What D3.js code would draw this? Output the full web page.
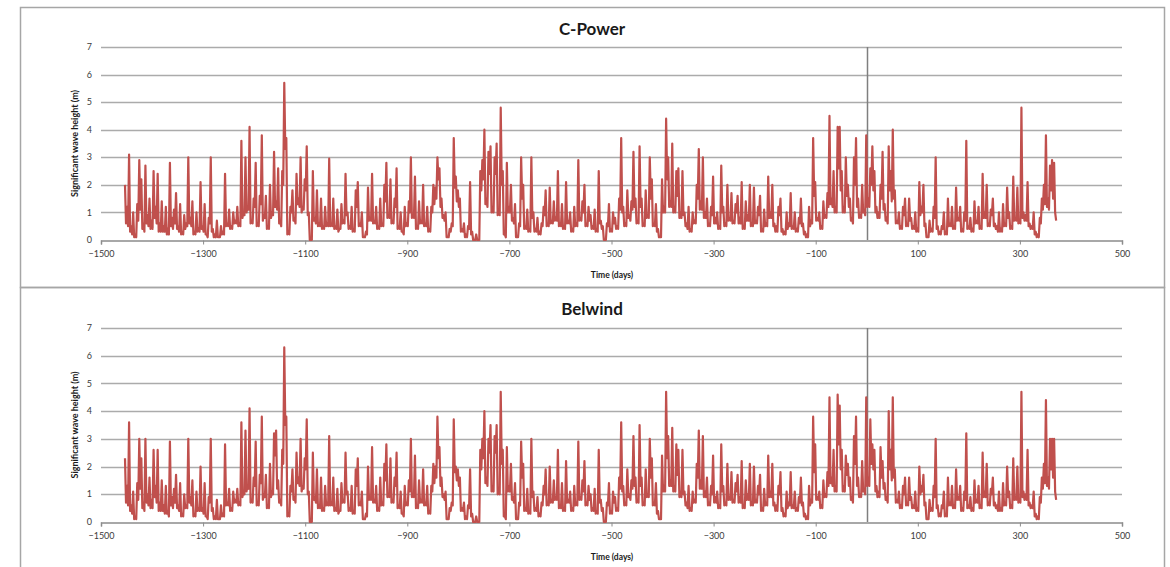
<!DOCTYPE html>
<html>
<head>
<meta charset="utf-8">
<script src="https://cdn.jsdelivr.net/npm/d3@7"></script>
<style>
  body { margin: 0; background: #fff; }
  svg { display: block; font-family: Lato, "Open Sans", sans-serif; }
</style>
</head>
<body>
<div id="chart"></div>
<script>
// readings every 2 days from day -1453: the "Even" arrays hold days -1453, -1449, ...
// and the "Odd" arrays the readings in between (-1451, -1447, ...)
const startDay = -1453;
const stepDays = 2;
const xTicks = [-1500, -1300, -1100, -900, -700, -500, -300, -100, 100, 300, 500];
const yTicks = [0, 1, 2, 3, 4, 5, 6, 7];
const titles = ["C-Power", "Belwind"];

const cpowerEven = [
  2.0,1.2,3.1,0.5,1.0,0.2,1.3,2.9,2.2,0.6,2.7,0.9,1.5,0.7,2.5,1.2,2.4,0.6,1.4,0.5,1.2,0.4,2.8,0.8,1.1,
  1.7,0.5,1.3,0.3,0.9,0.6,3.0,0.8,1.4,0.3,1.0,0.4,2.1,0.5,1.3,0.2,0.8,3.0,0.4,0.2,0.7,0.1,0.5,0.3,2.4,
  0.6,1.1,0.5,1.0,0.7,1.2,0.6,3.6,1.0,3.0,1.2,4.1,0.7,1.5,2.8,0.6,1.6,3.8,0.9,1.6,0.5,2.0,1.0,3.2,1.4,
  2.6,0.7,2.5,5.7,3.7,0.3,1.2,1.8,0.8,2.4,1.5,3.0,1.2,2.2,3.4,1.0,0.0,2.5,0.8,1.8,0.6,1.5,0.5,1.2,0.6,
  2.95,0.6,1.5,0.5,1.1,0.4,1.3,0.7,2.4,1.0,0.5,1.2,0.4,1.8,2.1,0.6,1.0,0.1,0.3,1.9,0.8,2.4,0.7,1.2,0.5,
  1.5,0.6,2.0,2.8,0.9,2.2,0.7,1.5,2.6,0.5,1.0,0.3,1.2,0.6,1.4,3.0,0.9,2.3,0.5,1.4,0.7,2.0,0.6,1.2,0.4,
  1.2,2.0,1.9,3.0,2.6,1.5,0.9,1.0,0.1,0.4,0.6,3.7,2.3,1.8,1.5,0.4,0.6,0.2,0.5,2.1,0.3,0.0,0.2,0.0,2.5,
  2.9,4.0,1.5,3.2,3.4,1.2,3.0,3.5,1.0,4.8,2.5,0.2,2.8,1.2,2.0,0.8,1.3,0.1,0.6,3.0,2.0,0.5,1.1,0.4,3.0,
  1.0,0.4,0.8,0.3,0.6,1.2,1.8,0.6,1.9,0.7,1.4,0.8,2.5,0.6,1.3,0.5,2.1,0.7,1.0,0.4,1.2,0.6,2.9,0.8,1.4,
  2.0,0.6,1.2,0.9,0.5,1.1,0.4,2.5,0.7,0.5,0.0,0.6,1.3,0.4,1.0,0.8,0.5,1.5,3.7,1.2,0.6,1.8,0.9,1.4,3.2,
  1.5,0.7,3.4,1.5,0.6,1.8,0.9,3.0,2.2,0.6,1.3,0.4,0.1,2.2,1.2,4.4,3.0,1.4,3.5,1.2,2.5,2.6,1.0,2.5,1.0,
  0.6,1.2,0.4,1.0,0.7,2.0,3.3,1.4,3.0,1.0,1.5,0.6,1.2,2.3,0.8,1.0,0.5,2.7,1.2,0.6,2.0,0.8,1.7,0.7,1.3,
  1.6,0.8,2.1,0.5,1.4,0.9,2.0,0.6,1.9,0.7,1.2,1.6,0.4,1.1,0.6,2.3,1.0,2.0,0.6,0.5,1.2,1.5,0.4,0.3,1.0,
  0.6,1.7,0.5,1.0,0.4,0.8,1.5,0.6,0.3,0.2,1.2,0.7,3.7,2.1,0.8,1.0,0.5,1.4,0.9,1.7,4.5,1.5,2.5,1.2,4.1,
  4.1,2.5,1.2,3.0,2.0,1.5,0.8,3.0,3.7,1.5,0.9,2.0,1.1,3.8,1.5,2.6,3.4,2.5,1.2,1.0,2.0,3.2,1.3,0.8,3.4,
  2.5,4.0,1.8,0.7,1.0,0.5,1.2,1.5,0.6,1.5,0.8,0.5,1.0,0.4,2.1,1.2,2.0,0.6,0.1,0.7,0.4,1.2,3.0,0.5,0.3,
  0.5,1.0,0.3,1.5,0.6,1.2,0.5,1.9,0.8,1.2,0.4,1.0,3.6,0.5,0.8,0.4,1.4,0.7,1.2,0.5,2.4,1.0,2.0,0.6,1.1,
  1.5,0.6,0.5,1.0,0.4,1.3,0.6,1.9,1.0,0.5,2.3,0.8,1.9,0.7,4.8,1.0,0.9,2.1,0.6,0.5,1.0,0.3,0.2,0.8,1.5,
  2.0,3.8,1.5,2.7,2.9,2.8,0.7
];
const cpowerOdd = [
  0.6,0.5,0.3,0.2,0.1,0.1,0.7,1.1,0.4,0.3,0.6,0.5,0.4,0.4,0.8,0.6,0.3,0.3,0.3,0.3,0.2,0.2,0.5,0.4,0.6,
  0.4,0.3,0.2,0.2,0.4,0.5,0.6,0.5,0.2,0.2,0.3,0.3,0.4,0.3,0.2,0.1,0.6,0.3,0.1,0.1,0.1,0.1,0.2,0.2,0.5,
  0.5,0.4,0.4,0.6,0.6,0.5,0.5,0.8,0.9,1.0,1.1,0.6,0.6,1.2,0.5,0.5,1.3,0.7,0.8,0.4,0.4,0.8,0.9,1.2,1.1,
  0.6,0.5,2.0,3.3,0.2,0.2,1.0,0.7,0.6,1.3,1.2,1.0,1.1,1.8,0.9,0.0,0.0,0.7,0.6,0.5,0.5,0.4,0.4,0.5,0.5,
  0.5,0.5,0.4,0.4,0.3,0.4,0.6,0.6,0.9,0.4,0.4,0.3,0.3,1.2,0.5,0.5,0.1,0.1,0.2,0.7,0.7,0.6,0.6,0.4,0.4,
  0.5,0.5,1.4,0.8,0.8,0.6,0.6,1.2,0.4,0.4,0.3,0.2,0.5,0.5,1.0,0.8,0.8,0.4,0.4,0.6,0.6,0.5,0.5,0.3,0.3,
  1.0,1.3,1.5,2.2,1.2,0.8,0.7,0.1,0.1,0.3,0.5,1.9,1.4,1.2,0.3,0.3,0.1,0.1,0.4,0.2,0.0,0.0,0.0,0.0,1.8,
  2.2,1.3,1.2,2.4,1.0,1.0,2.4,0.9,0.9,2.0,0.2,0.1,1.0,1.0,0.7,0.6,0.1,0.1,0.5,1.5,0.4,0.4,0.3,0.3,0.8,
  0.3,0.3,0.2,0.2,0.5,0.9,0.5,0.5,0.6,0.6,0.7,0.7,0.5,0.5,0.4,0.4,0.6,0.6,0.3,0.3,0.5,0.5,0.7,0.7,1.0,
  0.5,0.5,0.7,0.4,0.4,0.3,0.3,0.6,0.4,0.0,0.0,0.5,0.3,0.3,0.6,0.4,0.4,1.1,1.0,0.5,0.5,0.8,0.7,1.1,1.2,
  0.6,0.6,1.2,0.5,0.5,0.8,0.8,1.5,0.5,0.5,0.3,0.1,0.1,1.0,1.0,2.2,1.2,1.2,1.0,1.0,1.6,0.8,0.8,0.9,0.5,
  0.4,0.3,0.3,0.6,0.6,1.5,1.1,1.1,0.8,0.8,0.5,0.5,0.9,0.6,0.6,0.4,0.4,1.0,0.5,0.5,0.7,0.7,0.6,0.6,1.0,
  0.6,0.6,0.4,0.4,0.7,0.7,0.5,0.5,0.6,0.6,0.9,0.3,0.3,0.5,0.5,0.8,0.8,0.5,0.3,0.3,0.9,0.3,0.2,0.2,0.4,
  0.5,0.4,0.4,0.3,0.3,0.6,0.5,0.2,0.1,0.1,0.5,0.6,1.6,0.7,0.7,0.4,0.4,0.8,0.8,1.2,1.3,1.2,1.0,1.0,2.6,
  1.8,1.0,1.0,1.6,1.2,0.7,0.6,2.0,1.2,0.8,0.8,1.0,0.9,1.2,1.2,2.0,1.8,1.0,0.8,0.8,1.5,1.1,0.7,0.6,1.8,
  1.4,1.5,0.6,0.6,0.4,0.4,0.9,0.5,0.5,0.7,0.4,0.4,0.3,0.3,0.9,1.0,0.5,0.1,0.1,0.3,0.3,0.8,0.4,0.2,0.2,
  0.4,0.2,0.2,0.5,0.5,0.4,0.4,0.7,0.7,0.3,0.3,0.7,0.4,0.4,0.3,0.3,0.6,0.6,0.4,0.4,0.8,0.8,0.5,0.5,0.9,
  0.5,0.4,0.3,0.3,0.3,0.5,0.5,0.8,0.4,0.4,0.7,0.7,0.6,0.6,0.8,0.7,0.7,0.5,0.4,0.4,0.2,0.1,0.1,0.6,1.1,
  1.3,1.2,1.1,1.8,1.5,1.0
];

const belwindEven = [
  2.3,1.3,3.6,0.6,1.1,0.2,1.4,3.0,2.3,0.7,3.0,1.0,1.6,0.8,2.6,1.3,2.6,0.7,1.5,0.6,1.3,0.4,2.9,0.9,1.2,
  1.7,0.6,1.4,0.3,1.0,0.6,3.0,0.9,1.5,0.3,1.1,0.5,2.0,0.5,1.4,0.2,0.9,3.0,0.5,0.2,0.8,0.1,0.6,0.3,2.8,
  0.7,1.2,0.5,1.1,0.8,1.2,0.7,3.6,1.1,3.3,1.3,4.1,0.8,1.6,2.9,0.7,1.7,3.8,1.0,1.7,0.6,2.1,1.1,3.2,3.3,
  1.5,0.8,2.6,6.3,3.8,0.3,1.3,1.9,0.9,2.5,1.6,3.0,1.3,2.3,3.7,1.1,0.0,2.5,0.9,1.9,0.6,1.6,0.5,1.3,0.7,
  3.1,0.7,1.6,0.5,1.2,0.4,1.4,0.8,2.5,1.1,0.5,1.3,0.4,1.9,2.3,0.7,1.1,0.1,0.3,2.0,0.9,2.7,0.8,1.3,0.5,
  1.6,0.7,2.1,2.8,1.0,2.3,0.8,1.6,2.5,0.6,1.1,0.3,1.3,0.7,1.5,3.0,1.0,2.4,0.6,1.5,0.8,1.9,0.7,1.3,0.4,
  1.3,2.1,2.0,3.8,2.7,1.6,1.0,1.1,0.1,0.5,0.7,3.7,2.0,1.9,1.6,0.5,0.7,0.2,0.6,1.9,0.3,0.0,0.2,0.0,2.6,
  3.0,4.0,1.6,3.0,3.5,1.3,3.1,3.5,1.1,4.7,2.6,0.2,2.7,1.3,2.1,0.9,1.4,0.1,0.7,2.9,2.1,0.5,1.2,0.4,3.0,
  1.1,0.5,0.9,0.3,0.7,1.3,1.9,0.7,2.0,0.8,1.5,0.9,2.6,0.6,1.4,0.5,2.2,0.8,1.1,0.5,1.3,0.7,2.9,0.9,1.5,
  2.2,0.7,1.3,1.0,0.5,1.2,0.4,2.6,0.8,0.5,0.0,0.7,1.4,0.4,1.1,0.9,0.5,1.6,3.6,1.3,0.7,1.9,1.0,1.5,3.1,
  1.6,0.8,3.5,1.6,0.7,1.9,1.0,3.0,2.3,0.7,1.4,0.4,0.1,2.4,1.3,4.7,3.1,1.5,3.4,1.3,2.8,2.6,1.1,2.6,1.1,
  0.7,1.3,0.5,1.1,0.8,2.1,3.3,1.5,3.1,1.1,1.6,0.7,1.3,2.4,0.9,1.1,0.6,2.8,1.3,0.7,2.1,0.9,1.8,0.8,1.4,
  1.7,0.9,2.2,0.6,1.5,1.0,2.1,0.7,2.0,0.8,1.3,1.7,0.5,1.2,0.7,2.4,1.1,2.1,0.7,0.6,1.3,1.8,0.5,0.3,1.1,
  0.7,1.8,0.6,1.1,0.5,0.9,1.6,0.7,0.3,0.2,1.3,0.8,3.8,2.8,0.9,1.1,0.6,1.5,1.0,1.8,4.5,1.6,2.6,1.3,4.6,
  4.2,2.6,1.3,2.4,2.1,1.6,0.9,3.1,3.8,1.6,1.0,2.2,1.2,4.5,1.6,3.7,2.8,2.6,1.3,1.1,2.7,2.2,1.4,0.9,4.0,
  2.6,4.5,1.9,0.8,1.1,0.6,1.3,1.6,0.7,1.6,0.9,0.6,1.1,0.5,2.0,1.3,1.7,0.7,0.1,0.8,0.5,1.3,3.0,0.6,0.3,
  0.6,1.1,0.3,1.6,0.7,1.3,0.6,1.9,0.9,1.3,0.5,1.1,3.2,0.6,0.9,0.5,1.5,0.8,1.3,0.6,2.5,1.1,2.1,0.7,1.2,
  1.6,0.7,0.6,1.1,0.5,1.4,0.7,2.0,1.1,0.6,2.3,0.9,2.0,0.8,4.7,1.1,1.0,2.6,0.7,0.6,1.1,0.3,0.2,0.9,1.6,
  2.1,4.4,1.6,3.0,3.0,3.0,0.8
];
const belwindOdd = [
  0.7,0.6,0.4,0.3,0.1,0.1,0.8,1.2,0.5,0.4,0.7,0.6,0.5,0.5,0.9,0.7,0.4,0.4,0.4,0.3,0.3,0.2,0.6,0.5,0.7,
  0.5,0.4,0.2,0.2,0.5,0.5,0.7,0.6,0.2,0.2,0.4,0.4,0.4,0.3,0.2,0.1,0.7,0.4,0.1,0.1,0.1,0.1,0.2,0.2,0.6,
  0.6,0.4,0.4,0.7,0.7,0.6,0.6,0.9,1.0,1.1,1.2,0.7,0.7,1.3,0.6,0.6,1.4,0.8,0.9,0.5,0.5,0.9,1.0,2.4,1.2,
  0.7,0.6,2.1,3.5,0.2,0.2,1.1,0.8,0.7,1.4,1.3,1.1,1.2,1.9,1.0,0.0,0.0,0.8,0.7,0.5,0.5,0.4,0.4,0.6,0.6,
  0.6,0.6,0.4,0.4,0.3,0.4,0.7,0.7,1.0,0.4,0.4,0.3,0.3,1.3,0.6,0.6,0.1,0.1,0.2,0.8,0.8,0.7,0.7,0.4,0.4,
  0.6,0.6,1.5,0.9,0.9,0.7,0.7,1.3,0.5,0.5,0.3,0.2,0.6,0.6,1.1,0.9,0.9,0.5,0.5,0.7,0.7,0.6,0.6,0.3,0.3,
  1.1,1.4,1.6,2.3,1.3,0.9,0.8,0.1,0.1,0.4,0.6,1.8,1.5,1.3,0.4,0.4,0.1,0.1,0.5,0.2,0.0,0.0,0.0,0.0,1.9,
  2.3,1.4,1.3,2.5,1.1,1.1,2.5,1.0,1.0,2.1,0.2,0.1,1.1,1.1,0.8,0.7,0.1,0.1,0.6,1.6,0.4,0.4,0.3,0.3,0.9,
  0.4,0.4,0.2,0.2,0.6,1.0,0.6,0.6,0.7,0.7,0.8,0.8,0.5,0.5,0.4,0.4,0.7,0.7,0.4,0.4,0.6,0.6,0.8,0.8,1.1,
  0.6,0.6,0.8,0.4,0.4,0.3,0.3,0.7,0.4,0.0,0.0,0.6,0.3,0.3,0.7,0.4,0.4,1.2,1.1,0.6,0.6,0.9,0.8,1.2,1.3,
  0.7,0.7,1.3,0.6,0.6,0.9,0.9,1.6,0.6,0.6,0.3,0.1,0.1,1.1,1.1,2.3,1.3,1.3,1.1,1.1,1.7,0.9,0.9,1.0,0.6,
  0.5,0.4,0.4,0.7,0.7,1.6,1.2,1.2,0.9,0.9,0.6,0.6,1.0,0.7,0.7,0.5,0.5,1.1,0.6,0.6,0.8,0.8,0.7,0.7,1.1,
  0.7,0.7,0.5,0.5,0.8,0.8,0.6,0.6,0.7,0.7,1.0,0.4,0.4,0.6,0.6,0.9,0.9,0.6,0.4,0.4,1.0,0.4,0.2,0.2,0.5,
  0.6,0.5,0.5,0.4,0.4,0.7,0.6,0.2,0.1,0.1,0.6,0.7,1.8,0.8,0.8,0.5,0.5,0.9,0.9,1.3,1.4,1.3,1.1,1.1,2.8,
  1.9,1.1,1.1,1.7,1.3,0.8,0.7,2.1,1.3,0.9,0.9,1.1,1.0,1.3,1.3,2.1,1.9,1.1,0.9,0.9,1.6,1.2,0.8,0.7,1.9,
  1.5,1.6,0.7,0.7,0.5,0.5,1.0,0.6,0.6,0.8,0.5,0.5,0.4,0.4,1.0,1.1,0.6,0.1,0.1,0.4,0.4,0.9,0.5,0.2,0.2,
  0.5,0.2,0.2,0.6,0.6,0.5,0.5,0.8,0.8,0.4,0.4,0.8,0.5,0.5,0.4,0.4,0.7,0.7,0.5,0.5,0.9,0.9,0.6,0.6,1.0,
  0.6,0.5,0.4,0.4,0.4,0.6,0.6,0.9,0.5,0.5,0.8,0.8,0.7,0.7,0.9,0.8,0.8,0.6,0.5,0.5,0.2,0.1,0.1,0.7,1.2,
  1.4,1.3,1.2,1.9,1.6,1.1
];

// merge the two halves into one reading list per site
function merge(even, odd) {
  const out = [];
  even.forEach((v, i) => {
    out.push(v);
    if (i < odd.length) out.push(odd[i]);
  });
  return out;
}
const series = [merge(cpowerEven, cpowerOdd), merge(belwindEven, belwindOdd)];

const width = 1170, height = 567;
const svg = d3.select("#chart").append("svg")
    .attr("width", width)
    .attr("height", height);

const panels = [
  {top: 7, bottom: 287, y0: 240, y7: 47},
  {top: 287, bottom: 580, y0: 522, y7: 328}
];

const x = d3.scaleLinear([-1500, 500], [101, 1122]);

panels.forEach((p, k) => {
  const g = svg.append("g");
  const y = d3.scaleLinear([0, 7], [p.y0, p.y7]);

  g.append("rect")
      .attr("x", 20.5).attr("y", p.top + 0.5)
      .attr("width", 1144).attr("height", p.bottom - p.top)
      .attr("fill", "none")
      .attr("stroke", "#a6a6a6")
      .attr("stroke-width", 1.5);

  // gridlines
  g.append("g")
      .selectAll("line")
      .data(yTicks.filter(d => d > 0))
      .join("line")
        .attr("x1", x(-1500)).attr("x2", x(500))
        .attr("y1", d => Math.round(y(d)) + 0.5)
        .attr("y2", d => Math.round(y(d)) + 0.5)
        .attr("stroke", "#ababab")
        .attr("stroke-width", 1.3);

  // y tick labels
  g.append("g")
      .selectAll("text")
      .data(yTicks)
      .join("text")
        .attr("x", 92)
        .attr("y", d => y(d))
        .attr("dy", "0.35em")
        .attr("text-anchor", "end")
        .attr("font-size", 9)
        .attr("fill", "#3b3b3b")
        .text(d => d);

  const xAxis = d3.axisBottom(x).tickValues(xTicks).tickSize(4).tickFormat(d3.format("d"));
  g.append("g")
      .attr("transform", `translate(0,${Math.round(p.y0) + 0.5})`)
      .call(xAxis)
      .call(a => a.select(".domain").attr("stroke", "#8c8c8c").attr("stroke-width", 1.5))
      .call(a => a.selectAll(".tick line").attr("stroke", "#8c8c8c"))
      .call(a => a.selectAll(".tick text")
          .attr("font-family", "Lato, sans-serif")
          .attr("font-size", 9)
          .attr("fill", "#3b3b3b")
          .attr("dy", "1.1em"));

  // vertical line at day 0
  g.append("line")
      .attr("x1", Math.round(x(0)) + 0.5).attr("x2", Math.round(x(0)) + 0.5)
      .attr("y1", y(7)).attr("y2", y(0))
      .attr("stroke", "#7f7f7f")
      .attr("stroke-width", 1.5);

  const line = d3.line()
      .x((d, i) => x(startDay + i * stepDays))
      .y(d => y(d));

  g.append("path")
      .datum(series[k])
      .attr("fill", "none")
      .attr("stroke", "#c0504d")
      .attr("stroke-width", 2.2)
      .attr("stroke-linejoin", "round")
      .attr("d", line);

  g.append("text")
      .attr("x", 592).attr("y", p.top + 28)
      .attr("text-anchor", "middle")
      .attr("font-size", 17)
      .attr("font-weight", "bold")
      .attr("fill", "#1a1a1a")
      .text(titles[k]);

  g.append("text")
      .attr("x", 612).attr("y", p.y0 + 38)
      .attr("text-anchor", "middle")
      .attr("font-size", 8.5)
      .attr("font-weight", "bold")
      .attr("fill", "#1a1a1a")
      .text("Time (days)");

  g.append("text")
      .attr("transform", `translate(78,${(p.y0 + p.y7) / 2}) rotate(-90)`)
      .attr("text-anchor", "middle")
      .attr("font-size", 9)
      .attr("font-weight", "bold")
      .attr("fill", "#1a1a1a")
      .text("Significant  wave height (m)");
});
</script>
</body>
</html>
